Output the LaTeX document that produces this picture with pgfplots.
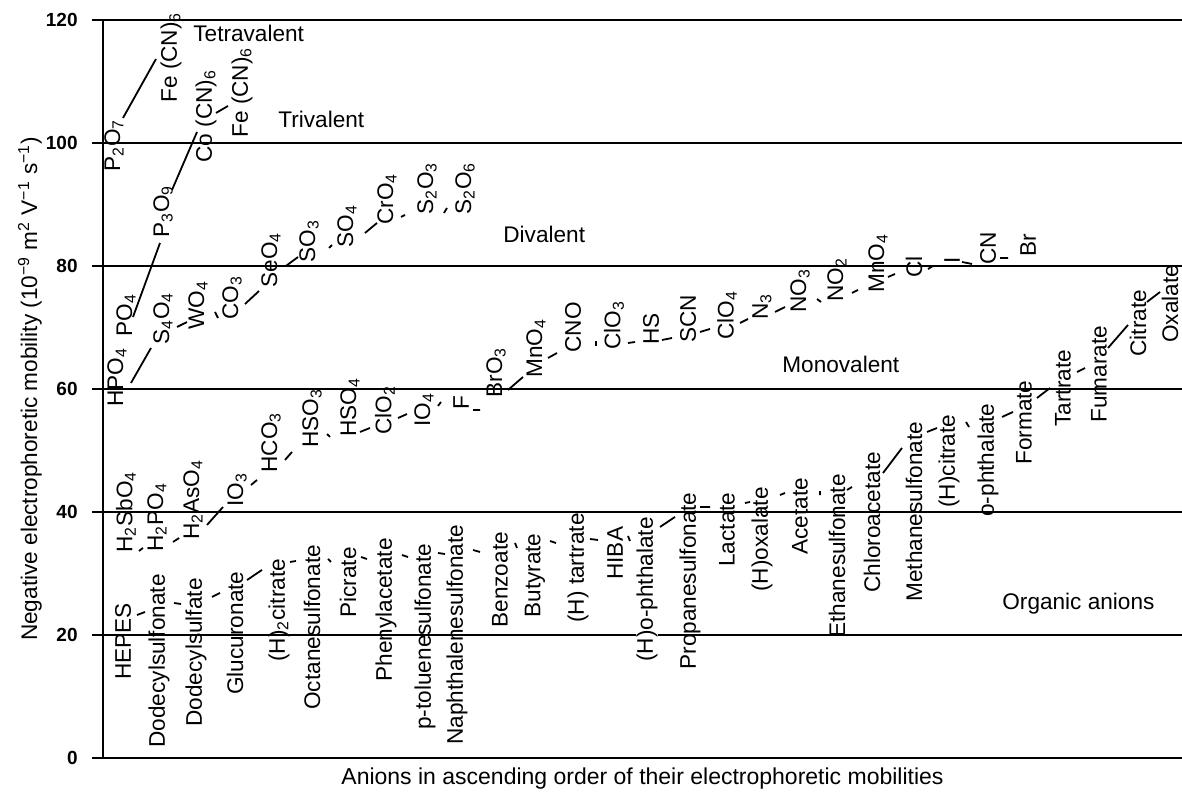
\documentclass[border=0pt]{standalone}
\usepackage{pgfplots}
\pgfplotsset{compat=1.18}
\usepackage{fontspec}
\setmainfont{Liberation Sans}
\newcommand\su[1]{\textsubscript{#1}}
\pgfplotsset{
  labs/.style={draw=none, mark=none, nodes near coords, point meta=explicit symbolic,
    nodes near coords align={anchor=west},
    every node near coord/.append style={rotate=90, anchor=west, inner sep=0pt,
      font=\fontsize{11.3}{13}\selectfont, black}},
  dsh/.style={black, line width=0.9pt, mark=none, unbounded coords=jump},
}
\begin{document}
\begin{tikzpicture}
\useasboundingbox (0,0) rectangle (591pt,397.5pt);
\begin{axis}[
  at={(51.5pt,18.5pt)}, anchor=south west,
  scale only axis, width=539.5pt, height=369pt,
  xmin=103, xmax=1182, ymin=0, ymax=120,
  axis lines*=left,
  axis line style={line width=1pt},
  xtick=\empty,
  ytick={0,20,40,60,80,100,120},
  ymajorgrids, grid style={black, line width=1pt},
  tick align=outside, major tick length=5.5pt,
  major tick style={black, line width=1pt},
  /pgf/number format/assume math mode=true,
  yticklabel style={font=\fontsize{9.5}{11}\selectfont\bfseries, anchor=east, inner sep=0pt, xshift=-7pt},
  clip=false,
]
% Tetravalent
\addplot[labs] coordinates {(114,95.28)[P\su{2}O\su{7}] (171,106.50)[Fe (CN)\su{6}]};
\addplot[dsh] coordinates {(123,104.07)(156,113.66)};
% Trivalent
\addplot[labs] coordinates {(126,68.46)[PO\su{4}] (163,84.55)[P\su{3}O\su{9}] (206,96.75)[Co (CN)\su{6}] (242,100.81)[Fe (CN)\su{6}]};
\addplot[dsh] coordinates {(133,71.71)(160,83.74) (nan,nan) (172,92.36)(197,101.79) (nan,nan) (216,104.88)(228,106.02)};
% Divalent
\addplot[labs] coordinates {(117,57.07)[HPO\su{4}] (163,67.15)[S\su{4}O\su{4}] (198,69.59)[WO\su{4}] (232,71.22)[CO\su{3}] (271,76.42)[SeO\su{4}] (309,80.49)[SO\su{3}] (347,82.93)[SO\su{4}] (387,86.67)[CrO\su{4}] (427,88.29)[S\su{2}O\su{3}] (465,88.29)[S\su{2}O\su{6}]};
\addplot[dsh] coordinates {(131,60.98)(151,66.67) (nan,nan) (177,70.08)(187,70.89) (nan,nan) (215,72.52)(218,71.54) (nan,nan) (245,73.82)(259,75.93) (nan,nan) (286,80.0)(298,81.46) (nan,nan) (329,82.93)(332,83.41) (nan,nan) (365,85.37)(377,86.99) (nan,nan) (401,87.97)(405,88.29) (nan,nan) (444,88.62)(447,89.43)};
% Monovalent
\addplot[labs] coordinates {(126,33.33)[H\su{2}SbO\su{4}] (157,33.50)[H\su{2}PO\su{4}] (193,35.45)[H\su{2}AsO\su{4}] (237,40.81)[IO\su{3}] (271,46.34)[HCO\su{3}] (312,50.41)[HSO\su{3}] (350,52.20)[HSO\su{4}] (385,52.52)[ClO\su{2}] (424,53.82)[IO\su{4}] (461,56.59)[F] (496,58.54)[BrO\su{3}] (536,61.79)[MnO\su{4}] (573,65.85)[CNO] (614,66.34)[ClO\su{3}] (651,67.15)[HS] (688,67.48)[SCN] (727,67.97)[ClO\su{4}] (762,71.22)[N\su{3}] (800,72.36)[NO\su{3}] (837,74.15)[NO\su{2}] (878,75.61)[MnO\su{4}] (914,78.05)[Cl] (952,80.33)[I] (988,80.16)[CN] (1028,81.46)[Br]};
\addplot[dsh] coordinates {(139,33.66)(143,34.15) (nan,nan) (173,35.12)(179,35.77) (nan,nan) (207,37.89)(223,40.81) (nan,nan) (251,44.39)(257,45.20) (nan,nan) (285,48.46)(292,49.76) (nan,nan) (327,52.68)(330,52.20) (nan,nan) (360,53.01)(370,53.66) (nan,nan) (398,55.28)(407,55.93) (nan,nan) (438,57.24)(441,57.89) (nan,nan) (473,56.59)(480,56.59) (nan,nan) (508,59.84)(523,61.95) (nan,nan) (548,65.04)(557,65.85) (nan,nan) (596,67.80)(596,66.99) (nan,nan) (628,67.48)(635,67.64) (nan,nan) (662,67.97)(672,68.29) (nan,nan) (700,69.27)(710,69.76) (nan,nan) (740,70.73)(748,71.38) (nan,nan) (775,72.52)(785,73.33) (nan,nan) (817,74.63)(821,74.15) (nan,nan) (852,75.61)(858,76.10) (nan,nan) (888,78.21)(895,78.70) (nan,nan) (928,79.51)(933,80.0) (nan,nan) (962,80.65)(972,80.33) (nan,nan) (1000,81.30)(1008,81.30)};
% Organic anions
\addplot[labs] coordinates {(123,12.68)[HEPES] (159,1.63)[Dodecylsulfonate] (196,5.04)[Dodecylsulfate] (235,10.24)[Glucuronate] (279,15.61)[(H)\su{2}citrate] (312,7.80)[Octanesulfonate] (348,22.76)[Picrate] (386,12.36)[Phenylacetate] (425,4.55)[p-toluenesulfonate] (457,2.11)[Naphthalenesulfonate] (500,21.14)[Benzoate] (535,22.76)[Butyrate] (578,21.95)[(H) tartrate] (615,28.94)[HIBA] (690,14.31)[Propanesulfonate] (727,31.06)[Lactate] (762,26.99)[(H)oxalate] (800,33.01)[Acetate] (837,19.51)[Ethanesulfonate] (872,26.83)[Chloroacetate] (914,25.37)[Methanesulfonate] (949,40.65)[(H)citrate] (988,39.19)[o-phthalate] (1024,47.64)[Formate] (1063,53.82)[Tartrate] (1099,54.47)[Fumarate] (1138,65.20)[Citrate] (1170,67.48)[Oxalate]};
\addplot[labs, every node near coord/.append style={fill=white, inner xsep=1.5pt}] coordinates {(647,15.12)[(H)o-phthalate]};
\addplot[dsh] coordinates {(137,23.25)(145,23.74) (nan,nan) (174,25.20)(181,25.04) (nan,nan) (212,26.18)(220,26.83) (nan,nan) (247,28.94)(262,30.57) (nan,nan) (290,31.87)(296,32.03) (nan,nan) (328,32.36)(331,31.87) (nan,nan) (361,32.68)(367,32.36) (nan,nan) (402,33.01)(408,32.68) (nan,nan) (438,33.33)(445,33.17) (nan,nan) (473,33.82)(480,33.50) (nan,nan) (515,34.96)(517,34.15) (nan,nan) (550,35.28)(556,34.96) (nan,nan) (590,35.61)(598,35.45) (nan,nan) (628,36.10)(630,35.28) (nan,nan) (660,37.56)(675,39.19) (nan,nan) (700,40.81)(710,40.81) (nan,nan) (745,41.46)(750,41.63) (nan,nan) (780,42.76)(785,43.09) (nan,nan) (820,43.41)(820,42.76) (nan,nan) (847,43.58)(852,44.07) (nan,nan) (883,46.34)(902,50.41) (nan,nan) (927,53.01)(937,53.66) (nan,nan) (966,54.63)(969,53.82) (nan,nan) (1002,55.45)(1013,56.26) (nan,nan) (1037,58.54)(1050,60.16) (nan,nan) (1077,62.76)(1085,63.41) (nan,nan) (1108,66.67)(1128,70.41) (nan,nan) (1147,74.15)(1160,75.77)};
% group names
\begin{scope}[every node/.style={anchor=base west, inner sep=0pt, font=\fontsize{11.3}{13}\selectfont}]
\node at (axis cs:193,116.42) {Tetravalent};
\node at (axis cs:278,102.44) {Trivalent};
\node at (axis cs:503,83.74) {Divalent};
\node at (axis cs:782,62.60) {Monovalent};
\node at (axis cs:1002,24.2) {Organic anions};
\end{scope}
\end{axis}
\node[rotate=90, anchor=center, inner sep=0pt, font=\fontsize{11.3}{13}\selectfont] at (15pt,203pt)
  {Negative electrophoretic mobility (10\textsuperscript{−9} m\textsuperscript{2} V\textsuperscript{−1} s\textsuperscript{−1})};
\node[anchor=base, inner sep=0pt, font=\fontsize{11.5}{13}\selectfont] at (321.25pt,5pt)
  {Anions in ascending order of their electrophoretic mobilities};
\end{tikzpicture}
\end{document}
